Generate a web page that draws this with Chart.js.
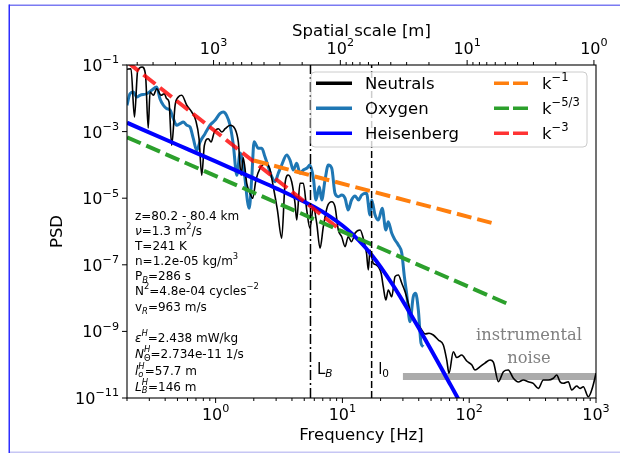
<!DOCTYPE html>
<html>
<head>
<meta charset="utf-8">
<title>PSD</title>
<script src="https://cdn.jsdelivr.net/npm/chart.js@4.4.1/dist/chart.umd.min.js"></script>
<style>
    html, body { margin: 0; padding: 0; background: #fff; }
    canvas { display: block; }
</style>
</head>
<body>
<canvas id="psd-chart" width="620" height="454" style="width:620px;height:454px"></canvas>
<script>
(function () {
    "use strict";

    // Measured spectra
    const neutralsFreq = [0.2, 0.215, 0.229, 0.243, 0.263, 0.280, 0.294, 0.304, 0.323, 0.343,
        0.371, 0.394, 0.411, 0.429, 0.450, 0.479, 0.508, 0.541, 0.592, 0.648,
        0.697, 0.740, 0.777, 0.815, 0.876, 0.920, 0.977, 1.05, 1.12, 1.19,
        1.30, 1.42, 1.51, 1.59, 1.65, 1.76, 1.87, 1.96, 2.08, 2.24,
        2.45, 2.65, 2.85, 3.07, 3.32, 3.53, 3.74, 3.98, 4.23, 4.36,
        4.63, 4.92, 5.23, 5.55, 5.90, 6.27, 6.66, 7.07, 7.60, 8.24,
        8.74, 9.28, 9.87, 10.5, 11.1, 11.8, 12.6, 13.8, 14.6, 15.5,
        16.0, 16.5, 17.5, 18.6, 20.2, 21.0, 22.0, 23.0, 24.5, 26.0,
        27.6, 29.4, 31.2, 33.1, 35.2, 37.4, 39.7, 42.2, 44.8, 48.2,
        52.1, 57.1, 62.5, 66.5, 69.3, 74.9, 79.7, 87.3, 95.6, 105,
        111, 122, 133, 146, 155, 170, 186, 203, 223, 244,
        267, 292, 320, 351, 384, 421, 461, 490, 520, 552,
        605, 643, 704, 748, 794, 870, 942, 1000];
    const neutralsPsd = [7.43e-2, 7.74e-2, 2.74e-3, 6.93e-2, 8.71e-2, 5.01e-2, 1.28e-3, 1.55e-2, 1.23e-2, 1.94e-2,
        1.23e-2, 1.37e-2, 9.73e-3, 7.74e-3, 3.88e-4, 6.17e-3, 1.09e-2, 1.23e-2, 6.17e-3, 3.88e-3,
        2.18e-3, 6.12e-4, 4.88e-5, 3.88e-4, 6.12e-4, 4.88e-4, 9.73e-4, 1.22e-3, 9.73e-4, 1.22e-3,
        1.55e-3, 1.22e-3, 4.88e-4, 4.88e-5, 1.67e-4, 2.80e-5, 1.40e-5, 9.93e-6, 3.52e-5, 7.91e-5,
        1.06e-4, 8.47e-5, 2.21e-5, 4.43e-6, 6.25e-7, 2.80e-5, 4.98e-5, 3.13e-5, 7.03e-6, 2.21e-6,
        2.80e-5, 2.80e-5, 4.43e-6, 1.25e-6, 5.56e-6, 1.76e-6, 3.13e-7, 1.39e-6, 5.56e-6, 7.85e-6,
        5.56e-6, 1.11e-6, 6.98e-7, 3.50e-7, 6.98e-7, 4.94e-7, 9.02e-7, 1.11e-6, 6.25e-7, 2.21e-7,
        6.98e-8, 2.78e-7, 1.11e-7, 9.86e-8, 5.56e-8, 2.20e-8, 8.77e-9, 1.75e-8, 1.10e-8, 4.40e-8,
        4.94e-8, 2.78e-8, 1.56e-8, 6.98e-9, 2.76e-9, 1.95e-9, 1.56e-9, 1.10e-9, 8.36e-10, 8.77e-10,
        7.80e-10, 5.52e-10, 3.91e-10, 1.38e-10, 5.52e-11, 2.45e-10, 1.64e-10, 1.95e-10, 1.29e-10, 9.79e-11,
        6.93e-11, 8.71e-11, 1.12e-10, 1.38e-10, 1.20e-10, 3.08e-11, 6.17e-11, 6.93e-11, 3.91e-11, 3.02e-11,
        3.47e-11, 3.08e-11, 2.76e-11, 1.95e-11, 3.47e-11, 3.47e-11, 3.91e-11, 4.91e-11, 3.08e-11, 2.76e-11,
        3.08e-11, 1.74e-11, 2.29e-11, 1.95e-11, 2.18e-11, 1.09e-11, 2.18e-11, 5.52e-11];

    const oxygenFreq = [0.2, 0.211, 0.224, 0.239, 0.253, 0.286, 0.313, 0.343, 0.364, 0.387,
        0.411, 0.437, 0.464, 0.493, 0.524, 0.556, 0.592, 0.628, 0.667, 0.709,
        0.753, 0.825, 0.903, 0.989, 1.08, 1.15, 1.22, 1.30, 1.38, 1.47,
        1.56, 1.66, 1.84, 1.93, 2.01, 2.17, 2.31, 2.45, 2.60, 2.77,
        2.94, 3.12, 3.32, 3.64, 3.86, 4.10, 4.36, 4.63, 4.92, 5.23,
        5.55, 5.90, 6.19, 6.57, 6.87, 7.29, 7.74, 8.24, 8.74, 9.28,
        9.87, 10.5, 11.1, 11.8, 12.6, 13.4, 14.2, 15.5, 16.5, 17.0,
        18.1, 19.2, 20.6, 22.0, 23.0, 24.5, 26.0, 27.6, 29.4, 30.8,
        32.1, 34.1, 36.2, 37.8, 39.7, 41.7, 43.5];
    const oxygenPsd = [6.17e-3, 1.37e-2, 1.55e-2, 1.09e-2, 1.23e-2, 1.37e-2, 1.74e-2, 2.18e-2, 9.73e-3, 6.17e-3,
        4.88e-3, 4.46e-3, 2.44e-3, 1.55e-3, 1.73e-3, 1.94e-3, 1.55e-3, 1.38e-3, 6.12e-4, 2.74e-4,
        4.88e-4, 8.65e-4, 1.55e-3, 2.18e-3, 3.45e-3, 3.88e-3, 3.08e-3, 1.55e-3, 3.88e-4, 4.88e-5,
        2.28e-4, 8.65e-5, 4.98e-6, 4.43e-5, 4.98e-4, 3.15e-4, 3.15e-4, 1.76e-4, 8.83e-5, 4.43e-5,
        3.13e-5, 5.60e-5, 9.93e-5, 1.98e-4, 1.40e-4, 7.03e-5, 1.12e-4, 5.60e-5, 7.03e-5, 7.91e-5,
        9.93e-5, 4.05e-5, 8.83e-6, 2.21e-5, 8.83e-6, 3.52e-5, 9.93e-5, 7.91e-5, 1.40e-5, 1.11e-5,
        1.25e-5, 9.93e-6, 4.43e-6, 8.83e-6, 1.16e-5, 8.83e-6, 1.25e-5, 1.40e-5, 3.13e-6, 8.83e-6,
        3.13e-6, 2.21e-6, 4.98e-6, 1.11e-6, 1.97e-6, 8.83e-7, 5.56e-7, 3.94e-7, 2.21e-7, 4.40e-8,
        1.39e-8, 1.95e-9, 1.10e-8, 1.39e-8, 4.40e-9, 4.40e-10, 3.48e-10];

    // Heisenberg model spectrum
    const heisenbergFreq = [0.2, 0.5, 1, 2, 3, 6, 8, 10, 12, 15, 17, 20, 25, 30, 35, 40, 45, 50, 60, 70, 80, 90];
    const heisenbergPsd = [1.85e-3, 4.03e-4, 1.27e-4, 3.95e-5, 1.98e-5, 5.42e-6, 2.81e-6, 1.52e-6, 8.36e-7,
        3.48e-7, 1.96e-7, 8.65e-8, 2.47e-8, 8.09e-9, 3.02e-9, 1.26e-9, 5.71e-10, 2.80e-10, 8.07e-11,
        2.79e-11, 1.11e-11, 4.90e-12];

    // power-law guides (end points)
    const slopeOneFreq = [2, 150];
    const slopeOnePsd = [1.36e-4, 1.82e-6];
    const slopeFiveThirdsFreq = [0.2, 200];
    const slopeFiveThirdsPsd = [6.76e-4, 6.78e-9];
    const slopeThreeFreq = [0.2, 10];
    const slopeThreePsd = [1.25e-1, 1.0e-6];

    // instrumental noise level
    const noiseFreq = [30, 1000];
    const noisePsd = [4.4e-11, 4.4e-11];

    // buoyancy and inner scale frequencies
    const scaleMarkFreq = [5.6, 17.0];

    const vR = 963; // m/s, converts frequency to spatial scale
    const yTickValues = [1e-1, 1e-3, 1e-5, 1e-7, 1e-9, 1e-11];
    const freqTickValues = [1, 10, 100, 1000];
    const scaleTickValues = [1, 10, 100, 1000];

    const infoLines = [
        [["z=80.2 - 80.4 km"]],
        [["\u03bd", "", true], ["=1.3 m"], ["2", "^"], ["/s"]],
        [["T=241 K"]],
        [["n=1.2e-05 kg/m"], ["3", "^"]],
        [["P"], ["B", "_", true], ["=286 s"]],
        [["N"], ["2", "^"], ["=4.8e-04 cycles"], ["\u22122", "^"]],
        [["v"], ["R", "_", true], ["=963 m/s"]],
        [["\u03b5", "", true], ["H", "^", true], ["=2.438 mW/kg"]],
        [["N", "", true], [["\u0398", "H"], "_^", [false, true]], ["=2.734e-11 1/s"]],
        [["l", "", true], [["o", "H"], "_^", [true, true]], ["=57.7 m"]],
        [["L", "", true], [["B", "H"], "_^", [true, true]], ["=146 m"]]
    ];
    const infoBaselines = [219.5, 234.5, 249.5, 264.5, 280, 295, 311, 341.5, 358, 374.5, 390.5];

    const SANS = '"DejaVu Sans", "Noto Sans", sans-serif';
    const SERIF = '"DejaVu Serif", serif';

    function setFont(ctx, size, italic, family) {
        ctx.font = (italic ? "italic " : "") + size + "px " + (family || SANS);
    }

    // parts: [text, mode, italic], mode is "", "^", "_" or "_^" (sub/sup stacked)
    function partWidth(ctx, p, size) {
        const mode = p[1] || "";
        if (mode === "_^") {
            setFont(ctx, size * 0.7, p[2] && p[2][0]);
            const a = ctx.measureText(p[0][0]).width;
            setFont(ctx, size * 0.7, p[2] && p[2][1]);
            const b = ctx.measureText(p[0][1]).width;
            return Math.max(a, b);
        }
        setFont(ctx, mode ? size * 0.7 : size, p[2]);
        return ctx.measureText(p[0]).width;
    }

    function drawRich(ctx, parts, x, y, size, align) {
        const widths = parts.map(p => partWidth(ctx, p, size));
        const total = widths.reduce((s, w) => s + w, 0);
        if (align === "center") x -= total / 2;
        else if (align === "right") x -= total;
        ctx.textAlign = "left";
        ctx.textBaseline = "alphabetic";
        const up = size * 0.48, down = size * 0.22;
        parts.forEach((p, i) => {
            const mode = p[1] || "";
            if (mode === "_^") {
                setFont(ctx, size * 0.7, p[2] && p[2][0]);
                ctx.fillText(p[0][0], x, y + down);
                setFont(ctx, size * 0.7, p[2] && p[2][1]);
                ctx.fillText(p[0][1], x, y - up);
            } else {
                setFont(ctx, mode ? size * 0.7 : size, p[2]);
                ctx.fillText(p[0], x, y + (mode === "^" ? -up : mode === "_" ? down : 0));
            }
            x += widths[i];
        });
    }

    function pow10(v) {
        const e = Math.round(Math.log10(v));
        return [["10"], [e < 0 ? "\u2212" + (-e) : String(e), "^"]];
    }

    function line(ctx, x1, y1, x2, y2) {
        ctx.beginPath();
        ctx.moveTo(x1, y1);
        ctx.lineTo(x2, y2);
        ctx.stroke();
    }

    const points = (fs, ps) => fs.map((f, i) => ({ x: f, y: ps[i] }));

    const datasets = [
        {
            label: "k^-1", data: points(slopeOneFreq, slopeOnePsd),
            borderColor: "#ff7f0e", borderWidth: 4, borderDash: [15, 6], order: 0,
            legendLabel: [["k"], ["\u22121", "^"]], legendCol: 1, legendRow: 0
        },
        {
            label: "k^-5/3", data: points(slopeFiveThirdsFreq, slopeFiveThirdsPsd),
            borderColor: "#2ca02c", borderWidth: 4, borderDash: [15, 6], order: 1,
            legendLabel: [["k"], ["\u22125/3", "^"]], legendCol: 1, legendRow: 1
        },
        {
            label: "k^-3", data: points(slopeThreeFreq, slopeThreePsd),
            borderColor: "rgba(255,0,0,0.8)", borderWidth: 4, borderDash: [15, 6], order: 2,
            legendLabel: [["k"], ["\u22123", "^"]], legendCol: 1, legendRow: 2
        },
        {
            label: "Heisenberg", data: points(heisenbergFreq, heisenbergPsd),
            borderColor: "#0000ff", borderWidth: 4, cubicInterpolationMode: "monotone", order: 3,
            legendLabel: [["Heisenberg"]], legendCol: 0, legendRow: 2
        },
        {
            label: "Neutrals", data: points(neutralsFreq, neutralsPsd),
            borderColor: "#000000", borderWidth: 1.6, cubicInterpolationMode: "monotone", order: 4,
            legendLabel: [["Neutrals"]], legendCol: 0, legendRow: 0
        },
        {
            label: "Oxygen", data: points(oxygenFreq, oxygenPsd),
            borderColor: "#1f77b4", borderWidth: 3, cubicInterpolationMode: "monotone", order: 5,
            legendLabel: [["Oxygen"]], legendCol: 0, legendRow: 1
        },
        {
            label: "noise", data: points(noiseFreq, noisePsd),
            borderColor: "#ababab", borderWidth: 7, order: 6
        }
    ];
    datasets.forEach(d => {
        d.fill = false;
        d.pointRadius = 0;
        d.borderJoinStyle = "round";
    });

    const figurePlugin = {
        id: "figure",
        beforeDraw(chart) {
            const ctx = chart.ctx;
            ctx.save();
            ctx.fillStyle = "#ffffff";
            ctx.fillRect(0, 0, chart.width, chart.height);
            // page frame
            ctx.lineWidth = 1.5;
            ctx.strokeStyle = "#7a7af2";
            line(ctx, 9, 5.25, chart.width, 5.25);
            ctx.strokeStyle = "#c6c6f4";
            line(ctx, 9, 452.25, chart.width, 452.25);
            ctx.strokeStyle = "#2e2eff";
            line(ctx, 9.25, 4.5, 9.25, 453);
            ctx.restore();
        },
        afterDatasetsDraw(chart) {
            const ctx = chart.ctx;
            const a = chart.chartArea;
            const xs = chart.scales.x, ys = chart.scales.y, ts = chart.scales.x2;
            ctx.save();
            ctx.fillStyle = "#000";

            // L_B and l_0 markers
            const markStyles = [
                { dash: [10, 3, 2, 3], label: [["L"], ["B", "_", true]] },
                { dash: [7, 3], label: [["l"], ["0", "_"]] }
            ];
            ctx.strokeStyle = "#000";
            ctx.lineWidth = 1.5;
            scaleMarkFreq.forEach((f, i) => {
                const px = xs.getPixelForValue(f);
                ctx.setLineDash(markStyles[i].dash);
                line(ctx, px, a.bottom, px, a.top);
                ctx.setLineDash([]);
                drawRich(ctx, markStyles[i].label, px + 6.5, 374, 15, "left");
            });

            // noise annotation
            ctx.fillStyle = "#808080";
            ctx.textAlign = "center";
            ctx.textBaseline = "alphabetic";
            setFont(ctx, 16.3, false, SERIF);
            ctx.fillText("instrumental", 529, 339.5);
            ctx.fillText("noise", 529, 362.5);

            // parameter block
            ctx.fillStyle = "#000";
            infoLines.forEach((parts, i) => drawRich(ctx, parts, 135, infoBaselines[i], 12, "left"));

            // legend
            const box = { x: 311, y: 72, w: 276, h: 75, r: 4 };
            ctx.beginPath();
            ctx.moveTo(box.x + box.r, box.y);
            ctx.arcTo(box.x + box.w, box.y, box.x + box.w, box.y + box.h, box.r);
            ctx.arcTo(box.x + box.w, box.y + box.h, box.x, box.y + box.h, box.r);
            ctx.arcTo(box.x, box.y + box.h, box.x, box.y, box.r);
            ctx.arcTo(box.x, box.y, box.x + box.w, box.y, box.r);
            ctx.closePath();
            ctx.fillStyle = "rgba(255,255,255,0.8)";
            ctx.fill();
            ctx.strokeStyle = "#cccccc";
            ctx.lineWidth = 1;
            ctx.stroke();
            const handleX = [316, 494], textX = [365, 542];
            chart.data.datasets.forEach(d => {
                if (!d.legendLabel) return;
                const cy = 83.3 + d.legendRow * 25;
                const hx = handleX[d.legendCol];
                ctx.strokeStyle = d.borderColor;
                ctx.lineWidth = 3.5;
                ctx.setLineDash(d.borderDash ? [15, 4] : []);
                line(ctx, hx, cy, hx + 36, cy);
                ctx.setLineDash([]);
                ctx.fillStyle = "#000";
                drawRich(ctx, d.legendLabel, textX[d.legendCol], cy + 6, 16.5, "left");
            });

            // spines
            ctx.strokeStyle = "#000";
            ctx.lineWidth = 1.1;
            ctx.strokeRect(a.left, a.top, a.right - a.left, a.bottom - a.top);

            // bottom axis ticks
            ctx.lineWidth = 1;
            [0.1, 1, 10, 100].forEach(dec => {
                for (let m = 2; m <= 9; m++) {
                    const v = m * dec;
                    if (v < xs.min || v > xs.max) continue;
                    const px = xs.getPixelForValue(v);
                    line(ctx, px, a.bottom, px, a.bottom + 3);
                }
            });
            freqTickValues.forEach(v => {
                const px = xs.getPixelForValue(v);
                line(ctx, px, a.bottom, px, a.bottom + 5);
                drawRich(ctx, pow10(v), px, 420, 16, "center");
            });

            // top axis: spatial scale
            [1, 10, 100, 1000].forEach(dec => {
                for (let m = 2; m <= 9; m++) {
                    const v = m * dec;
                    if (v < ts.min || v > ts.max) continue;
                    const px = ts.getPixelForValue(v);
                    line(ctx, px, a.top, px, a.top - 3);
                }
            });
            scaleTickValues.forEach(v => {
                const px = ts.getPixelForValue(v);
                line(ctx, px, a.top, px, a.top - 5);
                drawRich(ctx, pow10(v), px, 53.5, 16, "center");
            });

            // left axis
            yTickValues.forEach(v => {
                const py = ys.getPixelForValue(v);
                line(ctx, a.left, py, a.left - 5, py);
                drawRich(ctx, pow10(v), a.left - 8, py + 6, 16, "right");
            });

            // axis titles
            const midX = (a.left + a.right) / 2;
            drawRich(ctx, [["Spatial scale [m]"]], midX, 35.5, 16.5, "center");
            drawRich(ctx, [["Frequency [Hz]"]], midX, 440, 16.5, "center");
            ctx.save();
            ctx.translate(62, (a.top + a.bottom) / 2);
            ctx.rotate(-Math.PI / 2);
            drawRich(ctx, [["PSD"]], 0, 0, 16.5, "center");
            ctx.restore();

            ctx.restore();
        }
    };

    new Chart(document.getElementById("psd-chart").getContext("2d"), {
        type: "line",
        data: { datasets: datasets },
        options: {
            responsive: false,
            animation: false,
            devicePixelRatio: 1,
            events: [],
            layout: { padding: { left: 127, right: 24, top: 65, bottom: 56 } },
            scales: {
                x: { type: "logarithmic", min: 0.2, max: 1000, display: false },
                x2: { type: "logarithmic", axis: "x", position: "top", min: vR / 1000, max: vR / 0.2, reverse: true, display: false },
                y: { type: "logarithmic", min: 1e-11, max: 1e-1, display: false }
            },
            plugins: {
                legend: { display: false },
                tooltip: { enabled: false }
            }
        },
        plugins: [figurePlugin]
    });
})();
</script>
</body>
</html>
